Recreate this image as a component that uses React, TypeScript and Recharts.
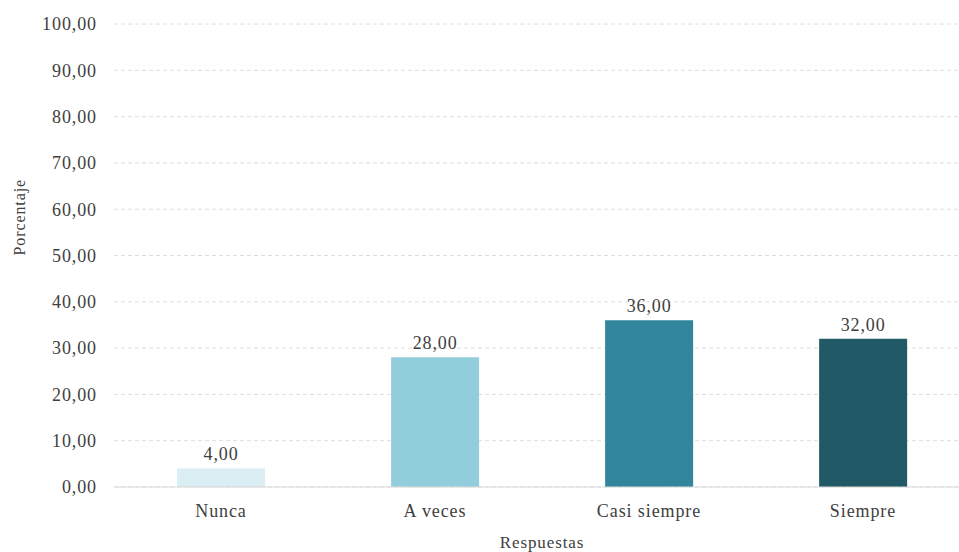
import { Bar, BarChart, CartesianGrid, Cell, LabelList, XAxis, YAxis } from 'recharts';

const categories = ['Nunca', 'A veces', 'Casi siempre', 'Siempre'];
const values = [4, 28, 36, 32];
const colors = ['#daeef3', '#92cddc', '#31859c', '#215967'];
const yTicks = [0, 10, 20, 30, 40, 50, 60, 70, 80, 90, 100];

const data = categories.map((name, i) => ({ name, value: values[i] }));

const fmt = (v: number) => v.toFixed(2).replace('.', ',');
const font = '"Liberation Serif", "Times New Roman", serif';
const txt = { fill: '#404040', fontSize: 18, fontFamily: font, letterSpacing: 0.9 };

export default function App() {
    return (
        <div style={{ position: 'absolute', left: 0, top: 0, width: 959, height: 552, overflow: 'hidden', background: '#fff' }}>
            <BarChart
                width={980}
                height={552}
                data={data}
                margin={{ top: 24, right: 10, bottom: 0, left: 0 }}
                barCategoryGap="29.5%"
                style={{ fontFamily: font }}
            >
                <CartesianGrid vertical={false} stroke="#dedede" strokeDasharray="4 3" />
                <XAxis
                    dataKey="name"
                    height={65}
                    axisLine={{ stroke: '#d9d9d9' }}
                    tickLine={false}
                    tickSize={0}
                    tickMargin={17}
                    tick={txt}
                    label={{ value: 'Respuestas', position: 'insideBottom', offset: 4, ...txt, fontSize: 17 }}
                />
                <YAxis
                    domain={[0, 100]}
                    ticks={yTicks}
                    width={114}
                    axisLine={false}
                    tickLine={false}
                    tickSize={0}
                    tickMargin={17}
                    tickFormatter={fmt}
                    tick={txt}
                    label={{ value: 'Porcentaje', angle: -90, position: 'insideLeft', offset: 19, ...txt, fontSize: 16 }}
                />
                <Bar dataKey="value" isAnimationActive={false}>
                    {data.map((d, i) => (
                        <Cell key={d.name} fill={colors[i]} />
                    ))}
                    <LabelList dataKey="value" position="top" offset={8} formatter={(v: number) => fmt(v)} {...txt} />
                </Bar>
            </BarChart>
        </div>
    );
}
